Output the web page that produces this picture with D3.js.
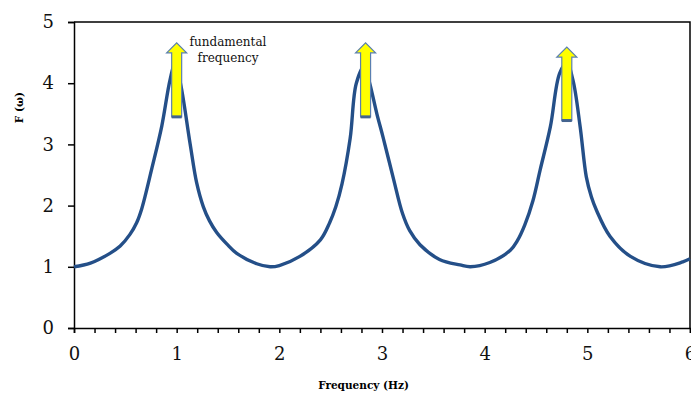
<!DOCTYPE html>
<html>
<head>
<meta charset="utf-8">
<script src="https://cdn.jsdelivr.net/npm/d3@7/dist/d3.min.js"></script>
<style>
  body { margin: 0; background: #fff; }
  svg { display: block; }
</style>
</head>
<body>
<script>
// set the dimensions and margins of the graph
var margin = {top: 22, right: 1, bottom: 66, left: 74},
    width = 691 - margin.left - margin.right,
    height = 394 - margin.top - margin.bottom;

// spectrum samples: frequency (Hz) and F(w)
var freq = [0, 0.16, 0.35, 0.45, 0.545, 0.61, 0.66, 0.76, 0.855, 0.935, 0.98, 1.03, 1.13, 1.195, 1.26, 1.32, 1.39, 1.49, 1.585, 1.78, 1.91,
            2.0, 2.2, 2.4, 2.49, 2.55, 2.61, 2.69, 2.75, 2.83, 2.88, 2.95, 3.01, 3.11, 3.2, 3.27, 3.37, 3.56, 3.76, 3.86,
            4.05, 4.25, 4.32, 4.39, 4.47, 4.54, 4.64, 4.73, 4.8, 4.86, 4.93, 4.99, 5.04, 5.09, 5.22, 5.42, 5.71, 5.93, 6.0];
var amp  = [1.0, 1.06, 1.22, 1.34, 1.53, 1.72, 1.95, 2.62, 3.3, 4.05, 4.3, 4.05, 3.02, 2.37, 1.98, 1.75, 1.56, 1.37, 1.22, 1.05, 1.0,
            1.02, 1.17, 1.44, 1.72, 1.98, 2.35, 3.1, 4.0, 4.28, 4.0, 3.5, 3.12, 2.45, 1.87, 1.59, 1.36, 1.12, 1.03, 1.0,
            1.07, 1.27, 1.43, 1.68, 2.08, 2.58, 3.29, 4.16, 4.33, 4.05, 3.29, 2.47, 2.14, 1.92, 1.5, 1.17, 1.0, 1.08, 1.13];

// arrows marking the peaks
var arrowFreq = [1.0, 2.84, 4.8];
var arrowTop  = [4.66, 4.66, 4.59];
var arrowBase = [3.45, 3.45, 3.39];

var xTicks = [0, 1, 2, 3, 4, 5, 6];
var yTicks = [0, 1, 2, 3, 4, 5];

var data = freq.map(function(f, i) { return {x: f, y: amp[i]}; });

var xScale = d3.scaleLinear().domain([0, 6]).range([0, width]);
var yScale = d3.scaleLinear().domain([0, 5]).range([height, 0]);

var svg = d3.select("body").append("svg")
    .attr("width", width + margin.left + margin.right)
    .attr("height", height + margin.top + margin.bottom)
  .append("g")
    .attr("transform", "translate(" + margin.left + "," + margin.top + ")");

var serif = "'DejaVu Serif', serif";

// frame (top and right)
svg.append("path")
    .attr("d", "M0,0H" + width + "V" + height)
    .attr("fill", "none")
    .attr("stroke", "#000")
    .attr("stroke-width", 1.5);

// x axis: minor ticks every 0.2, labels on whole numbers
var xAxis = svg.append("g")
    .attr("transform", "translate(0," + height + ")")
    .call(d3.axisBottom(xScale)
        .tickValues(d3.range(0, 31).map(function(i) { return i / 5; }))
        .tickSize(5)
        .tickPadding(14)
        .tickFormat(function(d) {
          var r = Math.round(d);
          return Math.abs(d - r) < 1e-6 && xTicks.indexOf(r) >= 0 ? String(r) : "";
        }));

var yAxis = svg.append("g")
    .call(d3.axisLeft(yScale)
        .tickValues(yTicks)
        .tickSize(6)
        .tickPadding(14)
        .tickFormat(d3.format("d")));

[xAxis, yAxis].forEach(function(ax) {
  ax.attr("font-family", serif);
  ax.select(".domain").attr("stroke-width", 1.5);
  ax.selectAll(".tick line").attr("stroke-width", 1.5);
  ax.selectAll("text")
      .attr("font-family", serif)
      .attr("font-size", 18)
      .attr("fill", "#111");
});

// axis titles
svg.append("text")
    .attr("x", xScale(2.82))
    .attr("y", height + 61)
    .attr("text-anchor", "middle")
    .attr("font-family", serif)
    .attr("font-weight", "bold")
    .attr("font-size", 10.5)
    .text("Frequency (Hz)");

svg.append("text")
    .attr("transform", "translate(" + (-51) + "," + yScale(3.6) + ") rotate(-90)")
    .attr("text-anchor", "middle")
    .attr("font-family", serif)
    .attr("font-weight", "bold")
    .attr("font-size", 10.5)
    .text("F (\u03c9)");

// spectrum line
var line = d3.line()
    .x(function(d) { return xScale(d.x); })
    .y(function(d) { return yScale(d.y); })
    .curve(d3.curveCatmullRom.alpha(0.5));

svg.append("path")
    .datum(data)
    .attr("fill", "none")
    .attr("stroke", "#244f88")
    .attr("stroke-width", 3.4)
    .attr("d", line);

// block arrows
var shaftW = 10, headW = 20, headH = 10;
arrowFreq.forEach(function(f, i) {
  var cx = xScale(f), top = yScale(arrowTop[i]), base = yScale(arrowBase[i]);
  var pts = [
    [cx - shaftW / 2, base], [cx - shaftW / 2, top + headH], [cx - headW / 2, top + headH],
    [cx, top], [cx + headW / 2, top + headH], [cx + shaftW / 2, top + headH], [cx + shaftW / 2, base]
  ];
  svg.append("path")
      .attr("d", "M" + pts.join("L") + "Z")
      .attr("fill", "#ffff00")
      .attr("stroke", "#5a7fb0")
      .attr("stroke-width", 1.2);
  svg.append("line")
      .attr("x1", cx - shaftW / 2).attr("x2", cx + shaftW / 2)
      .attr("y1", base).attr("y2", base)
      .attr("stroke", "#44648f")
      .attr("stroke-width", 3);
});

// annotation
var note = svg.append("text")
    .attr("font-family", serif)
    .attr("font-size", 12)
    .attr("text-anchor", "middle")
    .attr("fill", "#111");
note.append("tspan").attr("x", xScale(1.5)).attr("y", yScale(4.66) + 3).text("fundamental");
note.append("tspan").attr("x", xScale(1.5)).attr("y", yScale(4.66) + 19).text("frequency");
</script>
</body>
</html>
